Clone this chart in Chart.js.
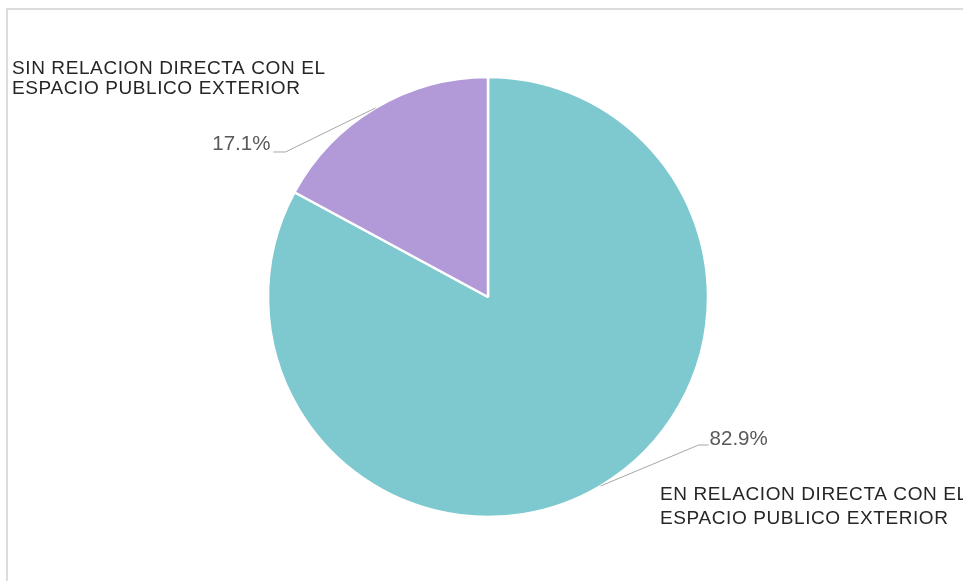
<!DOCTYPE html>
<html>
<head>
<meta charset="utf-8">
<script src="https://cdn.jsdelivr.net/npm/chart.js@4.4.1/dist/chart.umd.min.js"></script>
<style>
    html, body { margin: 0; padding: 0; background: #ffffff; overflow: hidden; }
    #wrap { position: relative; width: 963px; height: 581px; }
    #frame {
        position: absolute; left: 6px; top: 8px; width: 980px; height: 600px;
        border-left: 2px solid #dcdcdc; border-top: 2px solid #dcdcdc;
        box-sizing: border-box;
    }
    #chart { position: absolute; left: 0; top: 0; }
</style>
</head>
<body>
<div id="wrap">
    <div id="frame"></div>
    <canvas id="chart" width="963" height="581"></canvas>
</div>
<script>
// Data
const categories = [
    ['EN RELACION DIRECTA CON EL', 'ESPACIO PUBLICO EXTERIOR'],
    ['SIN RELACION DIRECTA CON EL', 'ESPACIO PUBLICO EXTERIOR']
];
const values = [82.9, 17.1];
const valueLabels = ['82.9%', '17.1%'];
const sliceColors = ['#7ec9d0', '#b29ad9'];

// Where each external label sits, relative to the slice edge point
const labelLayout = [
    { elbow: [98, -41], tail: 10, pctAlign: 'left', pct: [1, 0], cat: [660, 500, 24] },
    { elbow: [-90, 44], tail: -12, pctAlign: 'right', pct: [-3, -2], cat: [12, 74, 20] }
];

const outerLabels = {
    id: 'outerLabels',
    afterDatasetsDraw(chart) {
        const ctx = chart.ctx;
        const meta = chart.getDatasetMeta(0);
        meta.data.forEach((arc, i) => {
            const p = arc.getProps(['x', 'y', 'startAngle', 'endAngle', 'outerRadius'], true);
            const mid = (p.startAngle + p.endAngle) / 2;
            const ex = p.x + Math.cos(mid) * p.outerRadius;
            const ey = p.y + Math.sin(mid) * p.outerRadius;
            const lay = labelLayout[i];
            const bx = ex + lay.elbow[0];
            const by = ey + lay.elbow[1];
            const tx = bx + lay.tail;

            ctx.save();
            ctx.strokeStyle = '#a6a6a6';
            ctx.lineWidth = 1;
            ctx.beginPath();
            ctx.moveTo(ex, ey);
            ctx.lineTo(bx, by);
            ctx.lineTo(tx, by);
            ctx.stroke();

            // percentage
            ctx.fillStyle = '#595959';
            ctx.font = '20.5px "Liberation Sans", Arial, sans-serif';
            ctx.textAlign = lay.pctAlign;
            ctx.textBaseline = 'alphabetic';
            ctx.fillText(valueLabels[i], tx + lay.pct[0], by + lay.pct[1]);

            // category name
            ctx.fillStyle = '#262626';
            ctx.font = '19px "Liberation Sans", Arial, sans-serif';
            ctx.textAlign = 'left';
            if ('letterSpacing' in ctx) ctx.letterSpacing = '0.6px';
            categories[i].forEach((line, k) => {
                ctx.fillText(line, lay.cat[0], lay.cat[1] + k * lay.cat[2]);
            });
            ctx.restore();
        });
    }
};

new Chart(document.getElementById('chart').getContext('2d'), {
    type: 'pie',
    data: {
        labels: categories.map(c => c.join(' ')),
        datasets: [{
            data: values,
            backgroundColor: sliceColors,
            borderColor: '#ffffff',
            borderWidth: 2.5,
            hoverOffset: 0
        }]
    },
    options: {
        responsive: false,
        animation: false,
        radius: 220,
        layout: {
            padding: { left: 268, right: 255, top: 77, bottom: 64 }
        },
        plugins: {
            legend: { display: false },
            tooltip: { enabled: false },
            title: { display: false }
        }
    },
    plugins: [outerLabels]
});
</script>
</body>
</html>
